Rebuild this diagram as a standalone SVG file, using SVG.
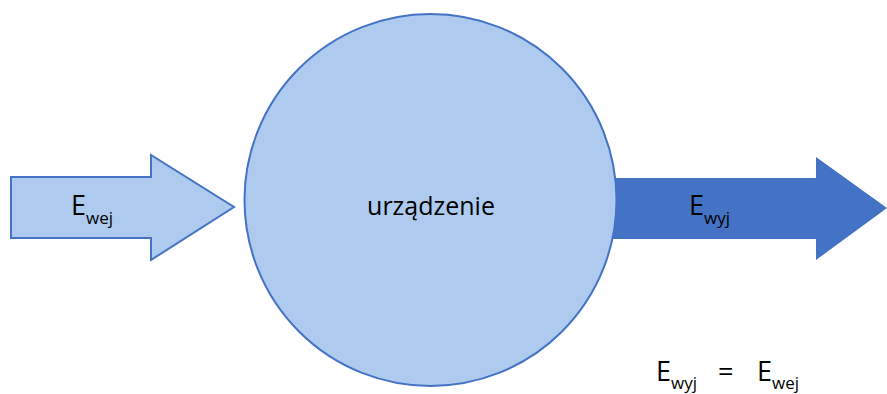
<svg xmlns="http://www.w3.org/2000/svg" width="887" height="394" viewBox="0 0 887 394">
<style>
text{font-family:"Open Sans","Liberation Sans",sans-serif;fill:#000}
.big{font-size:27px}
.sub{font-size:17px}
.lbl{font-size:25px}
</style>
<rect width="887" height="394" fill="#fff"/>
<g id="connectors">
<g id="arrow-out">
<polygon points="600,178 816,178 816,157 887,208 816,260 816,239 600,239" fill="#4472C4"/>
</g>
<g id="arrow-in">
<polygon points="11,177 151,177 151,155 234,207 151,260 151,238 11,238" fill="#AECBEF" stroke="#4472C4" stroke-width="2"/>
</g>
</g>
<g id="device">
<circle cx="430.5" cy="200" r="186" fill="#AECBEF" stroke="#4472C4" stroke-width="2"/>
<text class="lbl" x="431" y="215" text-anchor="middle">urządzenie</text>
</g>
<g id="label-in">
<text x="71" y="215"><tspan class="big">E</tspan><tspan class="sub" dy="9">wej</tspan></text>
</g>
<g id="label-out">
<text x="689" y="215"><tspan class="big">E</tspan><tspan class="sub" dy="9">wyj</tspan></text>
</g>
<g id="equation">
<text x="656" y="381"><tspan class="big">E</tspan><tspan class="sub" dy="8">wyj</tspan></text>
<text class="big" x="718" y="381">=</text>
<text x="757" y="381"><tspan class="big">E</tspan><tspan class="sub" dy="8">wej</tspan></text>
</g>
</svg>
